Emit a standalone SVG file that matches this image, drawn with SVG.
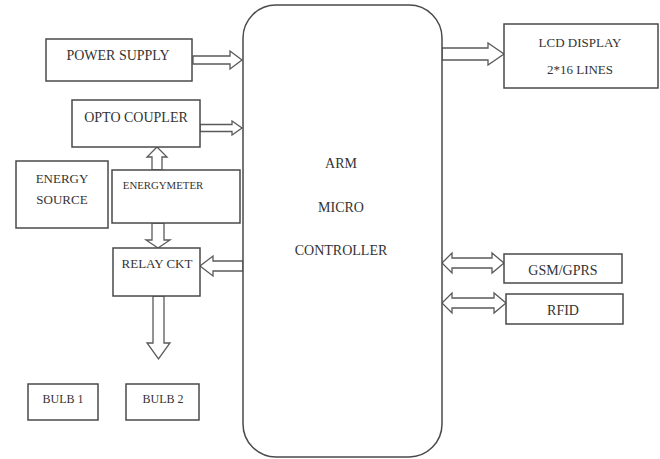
<svg xmlns="http://www.w3.org/2000/svg" width="660" height="459" viewBox="0 0 660 459">
  <style>
    .box { fill: #ffffff; stroke: #4a4a4a; stroke-width: 1.5; }
    .arrow { fill: #ffffff; stroke: #5a5a5a; stroke-width: 1.3; stroke-linejoin: miter; }
    text { font-family: "Liberation Serif", "DejaVu Serif", serif; fill: #333333; text-anchor: middle; }
    .t14 { font-size: 14px; }
    .t13 { font-size: 13px; }
    .t12 { font-size: 12px; }
    .t11 { font-size: 10.8px; }
  </style>
  <rect width="660" height="459" fill="#ffffff"/>

  <!-- connectors: hollow block arrows -->
  <g id="connectors">
    <path class="arrow" d="M193,56 H230 V51 L242,60 L230,69 V64 H193 Z"/>
    <path class="arrow" d="M200,124.5 H232 V121 L242,128 L232,135 V131.5 H200 Z"/>
    <path class="arrow" d="M152,170 V157 H147 L157,147 L167,157 H162 V170 Z"/>
    <path class="arrow" d="M152,223 V240 H146 L158,248 L170,240 H164 V223 Z"/>
    <path class="arrow" d="M243,261 H213 V256 L200,266 L213,276 V271 H243 Z"/>
    <path class="arrow" d="M153,296 V343 H147 L158.5,359 L170,343 H164 V296 Z"/>
    <path class="arrow" d="M442,48 H488 V43 L504,54 L488,65 V60 H442 Z"/>
    <path class="arrow" d="M442,263 L452,253 V258 H492 V253 L504,263 L492,273 V268 H452 V273 Z"/>
    <path class="arrow" d="M442,303 L452,293 V298 H494 V293 L506,303 L494,313 V308 H452 V313 Z"/>
  </g>

  <g id="power-supply">
    <rect class="box" x="46" y="39" width="146" height="42"/>
    <text class="t14" x="118" y="60">POWER SUPPLY</text>
  </g>

  <g id="opto-coupler">
    <rect class="box" x="72" y="100" width="128" height="47"/>
    <text class="t14" x="136" y="122">OPTO COUPLER</text>
  </g>

  <g id="energy-source">
    <rect class="box" x="16" y="161" width="92" height="67"/>
    <text class="t13" x="62" y="183">ENERGY</text>
    <text class="t13" x="62" y="204">SOURCE</text>
  </g>

  <g id="energymeter">
    <rect class="box" x="112" y="170" width="128" height="53"/>
    <text class="t11" x="163" y="189">ENERGYMETER</text>
  </g>

  <g id="relay-ckt">
    <rect class="box" x="113" y="248" width="87" height="48"/>
    <text class="t13" x="157" y="268">RELAY CKT</text>
  </g>

  <g id="bulb-1">
    <rect class="box" x="28" y="384" width="70" height="36"/>
    <text class="t12" x="63" y="403">BULB 1</text>
  </g>

  <g id="bulb-2">
    <rect class="box" x="126" y="384" width="73" height="36"/>
    <text class="t12" x="163" y="403">BULB 2</text>
  </g>

  <g id="arm-controller">
    <rect class="box" x="243" y="5" width="199" height="452" rx="33" ry="33"/>
    <text class="t14" x="341" y="168">ARM</text>
    <text class="t14" x="341" y="212">MICRO</text>
    <text class="t14" x="341" y="255">CONTROLLER</text>
  </g>

  <g id="lcd-display">
    <rect class="box" x="504" y="24" width="154" height="64"/>
    <text class="t13" x="580" y="47">LCD DISPLAY</text>
    <text class="t13" x="580" y="74">2*16 LINES</text>
  </g>

  <g id="gsm-gprs">
    <rect class="box" x="504" y="254" width="118" height="29"/>
    <text class="t14" x="563" y="275">GSM/GPRS</text>
  </g>

  <g id="rfid">
    <rect class="box" x="506" y="294" width="117" height="30"/>
    <text class="t14" x="563" y="315">RFID</text>
  </g>
</svg>
